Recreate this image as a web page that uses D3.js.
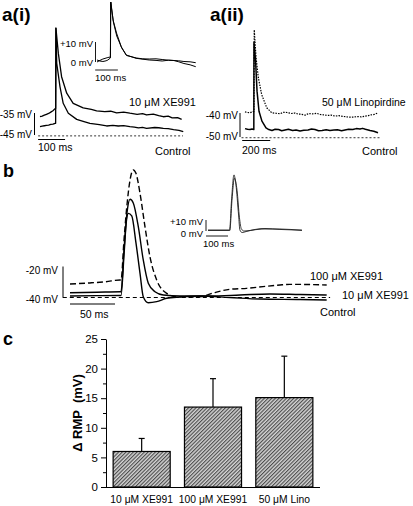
<!DOCTYPE html>
<html><head><meta charset="utf-8">
<script src="https://cdn.jsdelivr.net/npm/d3@7"></script>
<style>body{margin:0;background:#fff}svg{display:block;font-family:Arial,"Liberation Sans",Helvetica,sans-serif}</style>
</head><body><svg id="chart" width="413" height="506"></svg>
<script>
// ---------- DATA (time in ms, membrane potential in mV) ----------
// Panel a(i): 10 µM XE991 vs control
const a1XE991 = [[0,-36.7],[8,-36.4],[16,-36],[24,-35.6],[32,-35.2],[40,-34.6],[48,-34],[56,-33],[58,-32.9],[59,3.6],[68,-7.9],[80,-18.5],[99,-26],[123,-30.6],[160,-32.7],[190,-33.4],[210,-34],[240,-34.4],[262,-34.2],[284,-34.9],[310,-34.6],[333,-35.1],[360,-35.6],[380,-35.3],[395,-35.9],[420,-35.5],[440,-36.2],[457,-36.7],[475,-36.4],[490,-37.2],[510,-37.1],[525,-37.9]];
const a1Control = [[0,-41.2],[8,-41],[16,-40.8],[24,-40.6],[32,-40.5],[40,-40.2],[48,-40.1],[56,-39.7],[58,-39.7],[59,3.6],[62,-12.4],[74,-23],[86,-30.6],[105,-35.1],[136,-37.9],[160,-38.8],[185,-39.7],[220,-40.3],[247,-40.9],[270,-40.6],[290,-40.9],[310,-40.7],[333,-41.2],[350,-41.4],[365,-41.8],[380,-41.5],[395,-42],[425,-41.6],[440,-41.7],[457,-42],[475,-42.1],[495,-42.6],[515,-42.9],[531,-43.5]];
const a1InsetXE = [[0,0],[13,0.8],[26,1.5],[48,2.25],[59,2.5],[60,30],[71,21],[86,14.5],[107,7.6],[129,3.5],[172,1.85],[230,1],[260,0.8],[287,0.5],[315,0.9],[339,0.75],[360,0.6],[383,0.25],[410,0.1],[435,-0.35]];
const a1InsetCtrl = [[0,1],[13,0.5],[26,0.25],[40,0.6],[48,1],[59,2],[61,30],[72,20],[87,13],[109,7],[130,3.25],[174,2],[200,1.6],[230,1.5],[260,1.6],[287,1.25],[315,0.9],[339,0.75],[360,0.1],[383,-0.75],[410,-1.4],[435,-2.35]];

// Panel a(ii): 50 µM linopirdine vs control
const a2Lino = [[0,-39.5],[18,-39.8],[36,-39.9],[57,-39.4],[64,-39.4],[66,-5.4],[79,-16.9],[95,-25.2],[119,-32.3],[155,-37.8],[191,-39.9],[220,-40.1],[250,-40.3],[275,-39.7],[300,-39.8],[330,-40.2],[357,-40],[380,-40.5],[400,-40.5],[429,-40.9],[455,-40.2],[480,-40.4],[510,-40.1],[536,-40.6],[565,-40.8],[590,-41],[615,-40.9],[643,-41.3],[670,-41.1],[700,-41.4],[725,-41.6],[750,-41.75],[775,-41.7],[800,-41.5],[830,-41.6],[857,-41.3],[880,-41.1],[900,-40.8],[925,-40.6],[950,-39.9]];
const a2Control = [[0,-46.5],[18,-46.8],[36,-46.9],[50,-46.7],[63,-46.9],[64,-10.5],[75,-17.7],[86,-30.9],[100,-39.25],[121,-43.4],[150,-46.2],[170,-46.9],[193,-47.3],[215,-46.8],[240,-46.9],[262,-47.4],[286,-47.1],[310,-46.8],[340,-47.3],[365,-47.1],[393,-47.5],[420,-47.2],[450,-47.1],[475,-46.7],[500,-46.9],[525,-47.4],[550,-47.3],[580,-47],[607,-47.3],[635,-47.1],[660,-47],[690,-47.4],[714,-47.1],[740,-46.8],[770,-46.9],[795,-46.5],[821,-46.7],[840,-46.4],[860,-46.8],[880,-47.1],[893,-47.3],[920,-47.6],[950,-48.25]];

// Panel b: action potentials
const b100XE991 = [[0,-31.3],[22,-30.6],[40,-29.8],[55.6,-28.7],[56.7,-28.7],[60,-2.9],[63.3,19.7],[66.7,35.8],[70.3,42.3],[73.3,40.1],[77.8,27.2],[83.3,5.7],[88.9,-13.9],[96.3,-28.7],[107.4,-37.3],[118.6,-39.5],[144.4,-39.5],[158.9,-37.1],[177.8,-34.7],[196.3,-34.1],[214.4,-33],[233.3,-31.9],[244.4,-31.5],[285.2,-31.9]];
const b10XE991 = [[0,-36.9],[30,-36.6],[55.6,-36.3],[56.7,-36.3],[60,-9.4],[63.3,14.5],[66.7,23.4],[70.3,21],[75.9,5.7],[81.4,-15.8],[87,-30.8],[94.4,-36.3],[103.7,-38.4],[122.2,-39],[155.6,-39],[188.9,-38.4],[222.2,-37.7],[255.6,-38.1],[285.2,-38.4]];
const bControl = [[0,-39],[30,-38.8],[55.6,-38.7],[56.7,-38.7],[60,-12.6],[62.8,10],[64.8,14.3],[68.6,12.6],[73.3,-4.8],[77.8,-24.4],[81.4,-39.5],[87,-43.4],[96.3,-42.7],[107.4,-40.5],[122.2,-39.7],[144.4,-39],[177.8,-40],[211.1,-41],[255.6,-41.3],[285.2,-41.6]];
const bInsetXE = [[0,0.9],[91,0.9],[98,0.9],[107,28],[118,51],[127,42],[139,14.5],[145,0.9],[155,-1.4],[173,-0.5],[214,1.4],[259,2.3],[327,1.4],[427,0.9]];
const bInsetCtrl = [[0,0.45],[91,0.45],[99,0.45],[109,28],[120,48],[132,37],[143,12],[152,1.8],[164,0],[191,0.45],[245,1.8],[327,1.8],[427,0.45]];

// Panel c: change in resting membrane potential
const cCategories = ["10 \u03bcM XE991", "100 \u03bcM XE991", "50 \u03bcM Lino"];
const cMeans = [6.0, 13.5, 15.1];
const cErrors = [2.2, 4.8, 7.0];
const cTicks = [0, 5, 10, 15, 20, 25];
const cMinorTicks = [2.5, 7.5, 12.5, 17.5, 22.5];

// ---------- DRAWING ----------
const svg = d3.select('#chart');
const FONT = 'Arial, "Liberation Sans", Helvetica, sans-serif';

function drawTrace(data, x, y, opt) {
  const line = d3.line().x(d => x(d[0])).y(d => y(d[1])).curve(opt.curve || d3.curveLinear);
  svg.append('path').datum(data).attr('d', line)
    .attr('fill', 'none').attr('stroke', opt.color || '#000')
    .attr('stroke-width', opt.width || 1.2)
    .attr('stroke-linejoin', 'round')
    .attr('stroke-dasharray', opt.dash || null);
}
function seg(x1, y1, x2, y2, w, dash) {
  svg.append('line').attr('x1', x1).attr('y1', y1).attr('x2', x2).attr('y2', y2)
    .attr('stroke', '#000').attr('stroke-width', w || 1).attr('stroke-dasharray', dash || null);
}
function label(x, y, t, size, anchor, weight) {
  svg.append('text').attr('x', x).attr('y', y).text(t)
    .attr('font-size', size).attr('text-anchor', anchor || 'start')
    .attr('font-weight', weight || 'normal').attr('fill', '#000');
}

// ----- Panel a(i)
const xA1 = d3.scaleLinear().domain([0, 530]).range([40, 183]);
const yA1 = d3.scaleLinear().domain([-45, -35]).range([135, 113]);
drawTrace(a1XE991, xA1, yA1, {width: 1.3});
drawTrace(a1Control, xA1, yA1, {width: 1.3});
seg(xA1(-7), yA1(-45.4), xA1(530), yA1(-45.4), 0.8, '2,2');
seg(34.5, yA1(-35), 34.5, yA1(-45), 1);
seg(xA1(-7), 139.5, xA1(93), 139.5, 1);
label(2, 21, 'a(i)', 19, 'start', 'bold');
label(32, 117.5, '-35 mV', 10, 'end');
label(32, 138, '-45 mV', 10, 'end');
label(38, 151, '100 ms', 10.5);
label(129, 106, '10 \u03bcM XE991', 11);
label(155, 155, 'Control', 11);
// inset a(i)
const xA1i = d3.scaleLinear().domain([0, 100]).range([97, 119.7]);
const yA1i = d3.scaleLinear().domain([0, 10]).range([62, 42]);
drawTrace(a1InsetXE, xA1i, yA1i, {width: 1});
drawTrace(a1InsetCtrl, xA1i, yA1i, {width: 1});
seg(95.5, yA1i(10), 95.5, yA1i(0), 0.9);
seg(xA1i(-8), 70, xA1i(92), 70, 0.9);
label(93, 47, '+10 mV', 9.5, 'end');
label(93, 66, '0 mV', 9.5, 'end');
label(95, 81, '100 ms', 9.5);

// ----- Panel a(ii)
const xA2 = d3.scaleLinear().domain([0, 200]).range([245, 273]);
const yA2 = d3.scaleLinear().domain([-50, -40]).range([137, 113]);
drawTrace(a2Lino, xA2, yA2, {width: 1.2, dash: '1.5,1.2'});
drawTrace(a2Control, xA2, yA2, {width: 1.5});
seg(xA2(-25), yA2(-50.3), xA2(965), yA2(-50.3), 0.8, '2,2');
seg(240, yA2(-40), 240, yA2(-50), 1);
seg(xA2(-20), 140.5, xA2(180), 140.5, 1);
label(210, 21, 'a(ii)', 19, 'start', 'bold');
label(238, 118.5, '-40 mV', 10, 'end');
label(238, 140, '-50 mV', 10, 'end');
label(242, 153.5, '200 ms', 10.5);
label(322, 106, '50 \u03bcM Linopirdine', 10.5);
label(362, 155, 'Control', 11);

// ----- Panel b
const xB = d3.scaleLinear().domain([0, 50]).range([70, 115]);
const yB = d3.scaleLinear().domain([-40, -20]).range([297.5, 266.5]);
drawTrace(b100XE991, xB, yB, {width: 1.4, dash: '6,3', curve: d3.curveMonotoneX});
drawTrace(b10XE991, xB, yB, {width: 1.4, curve: d3.curveMonotoneX});
drawTrace(bControl, xB, yB, {width: 1.4, curve: d3.curveMonotoneX});
seg(xB(-8), yB(-40), xB(289), yB(-40), 1.2, '4,3');
seg(63, yB(-20), 63, yB(-40), 1);
seg(xB(0), 304, xB(50), 304, 1);
label(3, 177, 'b', 18, 'start', 'bold');
label(58, 273.5, '-20 mV', 10, 'end');
label(58, 303, '-40 mV', 10, 'end');
label(80, 318, '50 ms', 10.5);
label(310, 279.5, '100 \u03bcM XE991', 11);
label(342, 298.5, '10 \u03bcM XE991', 11);
label(320, 316, 'Control', 11);
// inset b
const xBi = d3.scaleLinear().domain([0, 100]).range([208, 230]);
const yBi = d3.scaleLinear().domain([0, 10]).range([231, 220]);
drawTrace(bInsetXE, xBi, yBi, {width: 0.9, color: '#222', curve: d3.curveMonotoneX});
drawTrace(bInsetCtrl, xBi, yBi, {width: 0.9, color: '#222', curve: d3.curveMonotoneX});
seg(206, yBi(10), 206, yBi(0), 0.9);
seg(xBi(-9), 236, xBi(91), 236, 0.9);
label(203, 224.5, '+10 mV', 9.5, 'end');
label(203, 237, '0 mV', 9.5, 'end');
label(203, 246.5, '100 ms', 9.5);

// ----- Panel c
const defs = svg.append('defs');
const pat = defs.append('pattern').attr('id', 'hatch').attr('patternUnits', 'userSpaceOnUse')
  .attr('width', 2.6).attr('height', 2.6).attr('patternTransform', 'rotate(45)');
pat.append('rect').attr('width', 2.6).attr('height', 2.6).attr('fill', '#d4d4d4');
pat.append('line').attr('x1', 0.6).attr('y1', 0).attr('x2', 0.6).attr('y2', 2.6)
  .attr('stroke', '#3a3a3a').attr('stroke-width', 1);

const yC = d3.scaleLinear().domain([0, 25]).range([487, 339]);
const xC = d3.scaleBand().domain(cCategories).range([106, 320]).paddingInner(0.2).paddingOuter(0.1);
const gC = svg.append('g');
const yAxis = d3.axisLeft(yC).tickValues(cTicks).tickSize(5).tickSizeOuter(0).tickPadding(3);
const ga = gC.append('g').attr('transform', 'translate(106,0)').call(yAxis);
ga.selectAll('text').attr('font-size', 11.5).attr('font-family', FONT).attr('fill', '#000');
ga.selectAll('line,path').attr('stroke', '#000');
const ga2 = gC.append('g').attr('transform', 'translate(106,0)')
  .call(d3.axisLeft(yC).tickValues(cMinorTicks).tickSize(3).tickFormat(''));
ga2.select('path').remove();
ga2.selectAll('line').attr('stroke', '#000');
// x baseline
gC.append('g').attr('transform', 'translate(0,' + yC(0) + ')')
  .call(d3.axisBottom(xC).tickSize(0).tickPadding(9))
  .call(g => g.select('path').attr('d', 'M106,0.5H320').attr('stroke', '#000'))
  .selectAll('text').attr('font-size', 10.3).attr('font-family', FONT).attr('fill', '#000');

cCategories.forEach((c, i) => {
  const cx = xC(c) + xC.bandwidth() / 2;
  const top = yC(cMeans[i] + cErrors[i]);
  gC.append('line').attr('x1', cx).attr('x2', cx).attr('y1', yC(cMeans[i])).attr('y2', top)
    .attr('stroke', '#000').attr('stroke-width', 1.2);
  gC.append('line').attr('x1', cx - 3).attr('x2', cx + 3).attr('y1', top).attr('y2', top)
    .attr('stroke', '#000').attr('stroke-width', 1.2);
});
gC.selectAll('rect.bar').data(cMeans).enter().append('rect').attr('class', 'bar')
  .attr('x', (d, i) => xC(cCategories[i]))
  .attr('width', xC.bandwidth())
  .attr('y', d => yC(d))
  .attr('height', d => yC(0) - yC(d))
  .attr('fill', 'url(#hatch)').attr('stroke', '#000').attr('stroke-width', 1.2);

svg.append('text').attr('transform', 'translate(82,413) rotate(-90)')
  .attr('text-anchor', 'middle').attr('font-size', 13).attr('font-weight', 'bold')
  .attr('xml:space', 'preserve').text('\u0394 RMP  (mV)');
label(3, 345, 'c', 18, 'start', 'bold');
</script>
</body></html>
